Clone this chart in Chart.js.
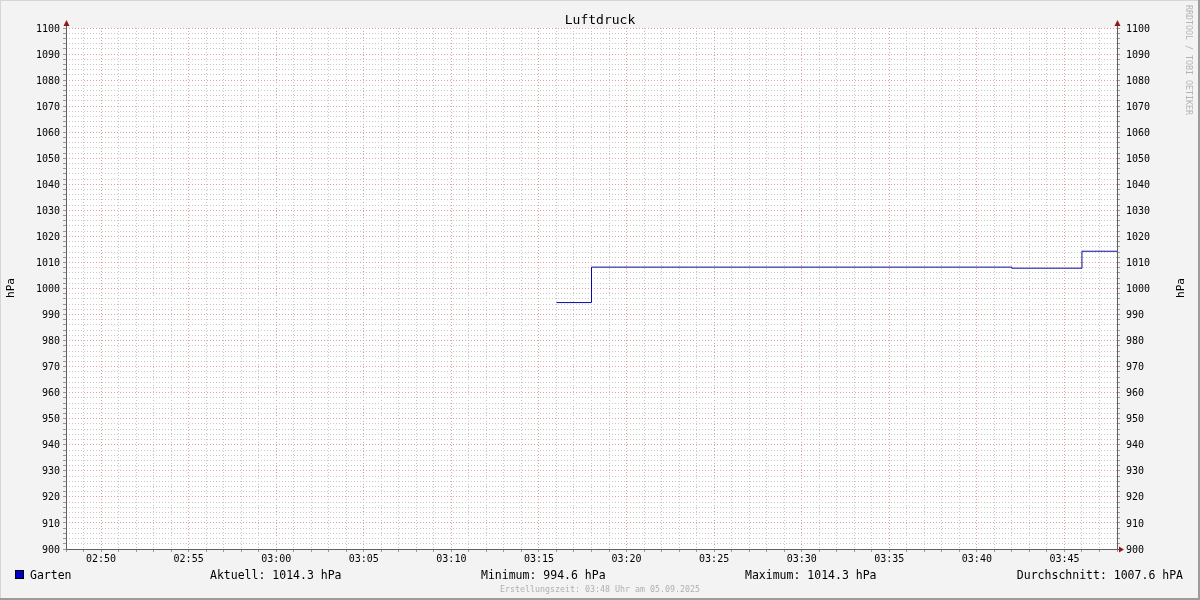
<!DOCTYPE html>
<html>
<head>
<meta charset="utf-8">
<script src="https://cdn.jsdelivr.net/npm/chart.js@4.4.1/dist/chart.umd.min.js"></script>
<style>
  html, body { margin: 0; padding: 0; background: #f3f3f3; }
  #wrap { width: 1200px; height: 600px; }
</style>
</head>
<body>
<div id="wrap"><canvas id="pressureChart" width="1200" height="600"></canvas></div>
<script>
// data
const startTime = '02:48';
const endTime = '03:48';
const sampleTimes = ['03:16', '03:18', '03:42', '03:46', '03:48'];
const sampleValues = [994.6, 1008.2, 1007.8, 1014.3, 1014.3];
const timeTicks = ['02:50', '02:55', '03:00', '03:05', '03:10', '03:15', '03:20', '03:25', '03:30', '03:35', '03:40', '03:45'];
const seriesName = 'Garten';
const statLabels = ['Aktuell: 1014.3 hPa', 'Minimum: 994.6 hPa', 'Maximum: 1014.3 hPa', 'Durchschnitt: 1007.6 hPA'];
const footerText = 'Erstellungszeit: 03:48 Uhr am 05.09.2025';

const MONO = "'DejaVu Sans Mono', monospace";

function toMin(t) {
  const p = t.split(':');
  return parseInt(p[0]) * 60 + parseInt(p[1]);
}
const t0 = toMin(startTime);
function fmt(m) {
  const total = t0 + m;
  const h = Math.floor(total / 60), mm = total % 60;
  return String(h).padStart(2, '0') + ':' + String(mm).padStart(2, '0');
}
const tickMinutes = timeTicks.map(t => toMin(t) - t0);
const points = sampleTimes.map((t, i) => ({ x: toMin(t) - t0, y: sampleValues[i] }));

function tri(ctx, pts) {
  ctx.beginPath();
  ctx.moveTo(pts[0], pts[1]);
  ctx.lineTo(pts[2], pts[3]);
  ctx.lineTo(pts[4], pts[5]);
  ctx.closePath();
  ctx.fill();
}

const rrdLook = {
  id: 'rrdLook',
  beforeDraw(chart) {
    const { ctx, chartArea: a } = chart;
    ctx.save();
    ctx.fillStyle = '#f3f3f3';
    ctx.fillRect(0, 0, chart.width, chart.height);
    ctx.fillStyle = '#ffffff';
    ctx.fillRect(a.left, a.top, a.right - a.left, a.bottom - a.top);
    ctx.restore();
  },
  afterDraw(chart) {
    const { ctx, chartArea: a } = chart;
    ctx.save();
    // axis lines
    ctx.strokeStyle = '#606060';
    ctx.lineWidth = 1;
    ctx.beginPath();
    ctx.moveTo(a.left + 0.5, a.top - 6);
    ctx.lineTo(a.left + 0.5, a.bottom + 0.5);
    ctx.lineTo(a.right + 4, a.bottom + 0.5);
    ctx.moveTo(a.right + 0.5, a.top - 6);
    ctx.lineTo(a.right + 0.5, a.bottom + 0.5);
    ctx.stroke();
    // arrows
    ctx.fillStyle = '#901818';
    tri(ctx, [a.left - 2.5, a.top - 2, a.left + 3.5, a.top - 2, a.left + 0.5, a.top - 8]);
    tri(ctx, [a.right - 2.5, a.top - 2, a.right + 3.5, a.top - 2, a.right + 0.5, a.top - 8]);
    tri(ctx, [a.right + 2, a.bottom - 2.5, a.right + 2, a.bottom + 3.5, a.right + 7, a.bottom + 0.5]);

    // title
    ctx.fillStyle = '#000';
    ctx.textAlign = 'center';
    ctx.textBaseline = 'middle';
    ctx.font = '13px ' + MONO;
    ctx.fillText('Luftdruck', 600, 20.5);

    // unit labels
    ctx.font = '11px ' + MONO;
    ctx.save();
    ctx.translate(11, 288);
    ctx.rotate(-Math.PI / 2);
    ctx.fillText('hPa', 0, 0);
    ctx.restore();
    ctx.save();
    ctx.translate(1181, 288);
    ctx.rotate(-Math.PI / 2);
    ctx.fillText('hPa', 0, 0);
    ctx.restore();

    // watermark
    ctx.save();
    ctx.translate(1188, 5);
    ctx.rotate(Math.PI / 2);
    ctx.textAlign = 'left';
    ctx.fillStyle = '#b4b4b4';
    ctx.font = '8.3px ' + MONO;
    ctx.fillText('RRDTOOL / TOBI OETIKER', 0, 0);
    ctx.restore();

    // legend
    ctx.fillStyle = '#0000c8';
    ctx.fillRect(15, 570, 9, 9);
    ctx.strokeStyle = '#000';
    ctx.strokeRect(15.5, 570.5, 8, 8);
    ctx.fillStyle = '#000';
    ctx.font = '11.5px ' + MONO;
    ctx.textAlign = 'left';
    ctx.fillText(seriesName, 30, 576.5);
    const statX = [210, 481, 745];
    statX.forEach((x, i) => ctx.fillText(statLabels[i], x, 576.5));
    ctx.textAlign = 'right';
    ctx.fillText(statLabels[3], 1183, 576.5);

    // footer
    ctx.textAlign = 'center';
    ctx.fillStyle = '#b0b0b0';
    ctx.font = '8.3px ' + MONO;
    ctx.fillText(footerText, 600, 590);

    // frame
    ctx.lineWidth = 2;
    ctx.strokeStyle = '#d6d6d6';
    ctx.beginPath();
    ctx.moveTo(0, 599); ctx.lineTo(0, 0); ctx.lineTo(1200, 0);
    ctx.stroke();
    ctx.strokeStyle = '#9c9c9c';
    ctx.beginPath();
    ctx.moveTo(1199, 0); ctx.lineTo(1199, 599); ctx.lineTo(0, 599);
    ctx.stroke();
    ctx.restore();
  }
};

function yLabel(v) { return v % 10 === 0 ? String(v) : ''; }
function yGrid(c) { return c.tick && c.tick.value % 10 === 0 ? '#e2a0a0' : '#c8c8c8'; }

new Chart(document.getElementById('pressureChart'), {
  type: 'line',
  data: {
    datasets: [{
      label: seriesName,
      data: points,
      stepped: 'before',
      borderColor: '#0a0aa0',
      borderWidth: 1,
      pointRadius: 0,
      fill: false
    }]
  },
  options: {
    responsive: false,
    animation: false,
    layout: { padding: { top: 28, left: 0, right: 0, bottom: 0 } },
    plugins: { legend: { display: false }, tooltip: { enabled: false } },
    scales: {
      x: {
        type: 'linear',
        min: 0,
        max: toMin(endTime) - t0,
        afterFit(s) { s.height = 51; },
        ticks: {
          stepSize: 1,
          autoSkip: false,
          maxRotation: 0,
          padding: 1,
          color: '#000',
          font: { family: MONO, size: 10 },
          callback: v => tickMinutes.includes(v) ? fmt(v) : ''
        },
        grid: {
          color: c => c.tick && tickMinutes.includes(c.tick.value) ? '#e2a0a0' : '#c8c8c8',
          tickColor: '#999',
          tickLength: 3
        },
        border: { display: false, dash: [1, 2] }
      },
      y: {
        position: 'left',
        min: 900,
        max: 1100,
        afterFit(s) { s.width = 66; },
        ticks: {
          stepSize: 2,
          autoSkip: false,
          padding: 3,
          labelOffset: 1,
          color: '#000',
          font: { family: MONO, size: 10 },
          callback: yLabel
        },
        grid: { color: yGrid, tickColor: '#999', tickLength: 3 },
        border: { display: false, dash: [1, 2] }
      },
      y2: {
        position: 'right',
        min: 900,
        max: 1100,
        afterFit(s) { s.width = 83; },
        ticks: {
          stepSize: 2,
          autoSkip: false,
          padding: 6,
          labelOffset: 1,
          color: '#000',
          font: { family: MONO, size: 10 },
          callback: yLabel
        },
        grid: { drawOnChartArea: false, tickColor: '#999', tickLength: 3 },
        border: { display: false }
      }
    }
  },
  plugins: [rrdLook]
});
</script>
</body>
</html>
